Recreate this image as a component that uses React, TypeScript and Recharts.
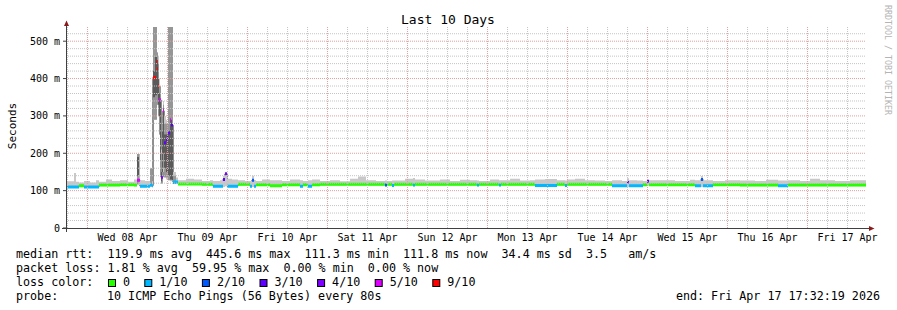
import React from 'react';
import { ComposedChart, XAxis, YAxis, Area, Line, ReferenceLine } from 'recharts';

document.body.style.margin = '0';

// hours since the start of the graph (Tue 07 Apr 17:32:19)
const times = [
    0, 2.4, 3.0, 3.9, 5.4, 7.2, 9.0, 9.9, 12.0, 13.8,
    16.2, 18.6, 20.4, 21.3, 22.2, 23.7, 25.2, 25.8, 26.1, 27.0,
    27.3, 27.6, 27.9, 28.2, 28.5, 29.1, 29.4, 30.0, 30.3, 30.6,
    31.2, 31.5, 32.1, 33.0, 33.6, 36.0, 38.4, 40.8, 43.2, 44.1,
    46.2, 47.1, 47.7, 48.3, 49.8, 51.6, 53.7, 55.2, 55.8, 56.4,
    57.0, 58.8, 61.2, 64.8, 67.2, 70.2, 71.1, 72.6, 73.8, 76.2,
    79.2, 82.2, 85.2, 87.6, 90.0, 93.0, 95.7, 96.3, 97.8, 98.4,
    101.7, 104.1, 104.7, 107.7, 112.2, 115.2, 118.2, 121.2, 123.3, 123.9,
    127.2, 129.9, 130.5, 133.2, 136.2, 139.2, 140.7, 143.7, 147.3, 149.7,
    150.3, 152.7, 155.7, 158.7, 161.7, 163.8, 166.8, 168.3, 168.9, 171.3,
    173.1, 174.3, 174.9, 178.2, 182.7, 187.2, 188.7, 190.5, 191.1, 194.1,
    197.7, 202.2, 206.7, 210.0, 213.6, 216.6, 220.2, 223.2, 226.2, 230.7,
    235.2, 240.0,
];

// median rtt in ms
const median = [
    110, 110, 110, 113, 110, 110, 110, 115, 115, 115,
    116, 116, 115, 128, 112, 112, 115, 113, 403, 445,
    426, 380, 343, 343, 136, 314, 228, 236, 244, 254,
    290, 276, 123, 123, 118, 118, 118, 117, 117, 112,
    112, 130, 145, 112, 112, 117, 117, 112, 128, 112,
    116, 116, 113, 116, 116, 112, 116, 112, 116, 117,
    117, 117, 117, 117, 117, 117, 115, 117, 114, 117,
    117, 115, 117, 117, 117, 117, 117, 117, 115, 117,
    117, 115, 117, 117, 117, 117, 114, 114, 117, 114,
    117, 117, 117, 117, 117, 113, 113, 122, 113, 113,
    116, 125, 116, 116, 116, 116, 113, 130, 113, 116,
    116, 115, 115, 115, 113, 115, 115, 115, 115, 115,
    115, 115,
];

// lost pings out of 10
const loss = [
    1, 1, 1, 0, 1, 1, 1, 0, 0, 0,
    0, 0, 0, 5, 1, 1, 1, 1, 9, 9,
    9, 9, 5, 5, 4, 5, 3, 3, 3, 3,
    5, 3, 1, 1, 0, 0, 0, 0, 0, 1,
    1, 3, 4, 1, 1, 0, 0, 1, 2, 1,
    0, 0, 0, 0, 0, 1, 0, 1, 0, 0,
    0, 0, 0, 0, 0, 0, 2, 0, 1, 0,
    0, 1, 0, 0, 0, 0, 0, 0, 1, 0,
    0, 1, 0, 0, 0, 0, 1, 1, 0, 1,
    0, 0, 0, 0, 0, 1, 1, 3, 1, 1,
    0, 3, 0, 0, 0, 0, 1, 2, 1, 0,
    0, 0, 0, 0, 1, 0, 0, 0, 0, 0,
    0, 0,
];

// smoke: fastest and slowest ping
const smokeLo = [
    107, 107, 107, 110, 107, 107, 107, 112, 112, 112,
    113, 113, 112, 115, 109, 109, 110, 110, 290, 300,
    330, 300, 250, 200, 118, 150, 140, 130, 130, 128,
    125, 125, 118, 118, 115, 115, 115, 114, 114, 109,
    109, 110, 112, 109, 109, 114, 114, 109, 110, 109,
    113, 113, 110, 113, 113, 109, 113, 109, 113, 114,
    114, 114, 114, 114, 114, 114, 112, 114, 111, 114,
    114, 112, 114, 114, 114, 114, 114, 114, 112, 114,
    114, 112, 114, 114, 114, 114, 111, 111, 114, 111,
    114, 114, 114, 114, 114, 110, 110, 110, 110, 110,
    113, 113, 113, 113, 113, 113, 110, 110, 110, 113,
    113, 112, 112, 112, 110, 112, 112, 112, 112, 112,
    112, 112,
];
const smokeHi = [
    125, 147, 124, 122, 126, 122, 128, 124, 130, 126,
    128, 124, 130, 198, 128, 126, 160, 125, 538, 538,
    470, 460, 400, 360, 210, 340, 300, 290, 280, 538,
    538, 538, 150, 135, 128, 132, 130, 126, 128, 126,
    128, 140, 147, 132, 130, 128, 126, 126, 140, 128,
    126, 130, 128, 126, 130, 128, 126, 128, 130, 126,
    128, 125, 132, 138, 128, 126, 127, 126, 127, 127,
    132, 134, 130, 127, 130, 126, 129, 128, 127, 126,
    130, 128, 128, 132, 127, 128, 130, 131, 128, 127,
    130, 132, 128, 127, 126, 128, 126, 133, 128, 127,
    126, 128, 128, 128, 126, 129, 128, 139, 128, 126,
    128, 127, 126, 129, 127, 128, 126, 132, 128, 126,
    128, 127,
];

// darker smoke layers around the Wed 08 Apr outage
const midTimes = [21.3, 22.0, 22.0, 25.2, 25.8, 25.8, 26.1, 27.3, 27.6, 27.9, 28.5, 29.1, 29.4, 30.6, 32.1, 33.0, 33.0];
const midLo = [118, 118, null, 112, 112, null, 290, 330, 300, 250, 120, 160, 135, 128, 118, 118, null];
const midHi = [198, 198, null, 160, 160, null, 538, 470, 440, 380, 200, 330, 280, 538, 140, 140, null];

const coreTimes = [21.3, 21.9, 21.9, 26.1, 26.7, 27.3, 27.6, 27.9, 28.2, 28.5, 28.8, 29.1, 29.4, 30.0, 30.6, 31.2, 31.8, 32.1, 32.4, 32.4];
const coreLo = [140, 140, null, 350, 355, 360, 330, 300, 180, 125, 150, 200, 160, 150, 140, 130, 128, 120, 120, null];
const coreHi = [190, 190, null, 420, 458, 450, 400, 360, 340, 150, 260, 320, 250, 250, 260, 290, 280, 126, 126, null];

const dayLabels = ['Wed 08 Apr', 'Thu 09 Apr', 'Fri 10 Apr', 'Sat 11 Apr', 'Sun 12 Apr', 'Mon 13 Apr', 'Tue 14 Apr', 'Wed 15 Apr', 'Thu 16 Apr', 'Fri 17 Apr'];
const yTicks = [0, 100, 200, 300, 400, 500];

const lossSteps = [0, 1, 2, 3, 4, 5, 9];
const lossColors = ['#26ff00', '#00b8ff', '#0059ff', '#5e00ff', '#7e00ff', '#dd00ff', '#ff0000'];
const lossLabels = ['0', '1/10', '2/10', '3/10', '4/10', '5/10', '9/10'];

const statLines = [
    'median rtt:  119.9 ms avg  445.6 ms max  111.3 ms min  111.8 ms now  34.4 ms sd  3.5   am/s',
    'packet loss: 1.81 % avg  59.95 % max  0.00 % min  0.00 % now',
];
const probeText = '10 ICMP Echo Pings (56 Bytes) every 80s';
const endText = 'end: Fri Apr 17 17:32:19 2026';

const W = 897;
const H = 310;
const mono = "'DejaVu Sans Mono', monospace";
const BAND = 4; // half height of the loss coloured median band, ms
const keepSpaces = (s: string) => s.replace(/ /g, '\u00a0');

const firstMidnight = 24 - (17 + 32 / 60 + 19 / 3600);
const noonTicks = dayLabels.map((_, i) => firstMidnight + 12 + 24 * i);
const vGrid: number[] = [];
for (let t = firstMidnight - 6; t <= 240; t += 6) vGrid.push(t);
const isMidnight = (t: number) => Math.abs((t - firstMidnight) / 24 - Math.round((t - firstMidnight) / 24)) < 1e-6;
const hGrid: number[] = [];
for (let v = 20; v <= 520; v += 20) hGrid.push(v);

const rows = times.map((t, i) => ({ t, med: median[i], smoke: [smokeLo[i], smokeHi[i]] }));
const midRows = midTimes.map((t, i) => ({ t, v: midLo[i] == null ? null : [midLo[i], midHi[i]] }));
const coreRows = coreTimes.map((t, i) => ({ t, v: coreLo[i] == null ? null : [coreLo[i], coreHi[i]] }));

// one step series per loss class, broken where another class takes over
const bandRows = (step: number) => {
    const out: { t: number; v: number[] | null }[] = [];
    for (let i = 0; i < times.length - 1; i++) {
        if (loss[i] !== step) continue;
        const b = [median[i] - BAND, median[i] + BAND];
        out.push({ t: times[i], v: b });
        if (loss[i + 1] !== step || i + 1 === times.length - 1) {
            out.push({ t: times[i + 1], v: b });
            out.push({ t: times[i + 1], v: null });
        }
    }
    return out;
};

export default function App() {
    let lx = 108;
    const legendItems = lossLabels.map((label, k) => {
        const x = lx;
        lx += 15 + (label.length + 2) * 7.1;
        return (
            <g key={label}>
                <rect x={x + 0.5} y={279.5} width={7} height={7} fill={lossColors[k]} stroke="#000" strokeWidth={1} />
                <text x={x + 15} y={286}>{label}</text>
            </g>
        );
    });

    return (
        <div style={{ position: 'relative', width: W, height: H, background: '#fff' }}>
            <ComposedChart width={W} height={H} data={rows} margin={{ top: 27, right: 31, bottom: 52, left: 6 }}>
                <XAxis type="number" dataKey="t" domain={[0, 240]} allowDataOverflow ticks={noonTicks} interval={0}
                    tickFormatter={(_v, i) => dayLabels[i]} axisLine={false} tickLine={false} tickSize={0} tickMargin={6}
                    height={30} tick={{ fontFamily: mono, fontSize: 10, fill: '#000' }} />
                <YAxis type="number" domain={[0, 538]} allowDataOverflow ticks={yTicks} interval={0}
                    tickFormatter={v => (v === 0 ? '0' : `${v} m`)} width={60} axisLine={false}
                    tickLine={{ stroke: '#404040' }} tickSize={3} tickMargin={3}
                    tick={{ fontFamily: mono, fontSize: 10, fill: '#000' }} />

                {/* grid */}
                {vGrid.map(t => (
                    <ReferenceLine key={'v' + t} x={t} stroke={isMidnight(t) ? '#e0a0a0' : '#c4c4c4'} strokeDasharray="1 1" />
                ))}
                {hGrid.map(v => (
                    <ReferenceLine key={'h' + v} y={v} stroke={v % 100 === 0 ? '#e0a0a0' : '#c4c4c4'} strokeDasharray="1 1" />
                ))}

                {/* smoke */}
                <Area dataKey="smoke" type="stepAfter" fill="#c8c8c8" fillOpacity={1} stroke="none" isAnimationActive={false} />
                <Area data={midRows} dataKey="v" type="stepAfter" fill="#969696" fillOpacity={1} stroke="none" isAnimationActive={false} />
                <Area data={coreRows} dataKey="v" type="stepAfter" fill="#5a5a5a" fillOpacity={1} stroke="none" isAnimationActive={false} />

                {/* median, drawn under the loss bands */}
                <Line dataKey="med" type="stepAfter" stroke="#202020" strokeWidth={1} dot={false} activeDot={false}
                    isAnimationActive={false} zIndex={90} />
                {lossSteps.map((s, k) => (
                    <Area key={'loss' + s} data={bandRows(s)} dataKey="v" type="stepAfter" fill={lossColors[k]} fillOpacity={1}
                        stroke="none" isAnimationActive={false} zIndex={110} />
                ))}
            </ComposedChart>

            <svg width={W} height={H} style={{ position: 'absolute', left: 0, top: 0, pointerEvents: 'none' }}
                fontFamily={mono}>
                <text x={448} y={24} textAnchor="middle" fontSize={13}>Last 10 Days</text>
                <text transform="translate(16,126) rotate(-90)" textAnchor="middle" fontSize={11}>Seconds</text>
                <text transform="translate(885,5) rotate(90)" fontSize={8.3} fill="#b4b4b4">RRDTOOL / TOBI OETIKER</text>

                {/* axes */}
                <line x1={62} y1={228.5} x2={870} y2={228.5} stroke="#404040" />
                <line x1={66.5} y1={25} x2={66.5} y2={232} stroke="#404040" />
                <polygon points="64,26 69,26 66.5,20.5" fill="#8b1a1a" />
                <polygon points="869,226 869,231 874.5,228.5" fill="#8b1a1a" />

                {/* legend */}
                <g fontSize={11.7}>
                    <text x={16} y={258}>{keepSpaces(statLines[0])}</text>
                    <text x={16} y={272}>{keepSpaces(statLines[1])}</text>
                    <text x={16} y={286}>loss color:</text>
                    {legendItems}
                    <text x={16} y={300}>probe:</text>
                    <text x={107} y={300}>{probeText}</text>
                    <text x={880} y={300} textAnchor="end">{endText}</text>
                </g>
            </svg>
        </div>
    );
}
